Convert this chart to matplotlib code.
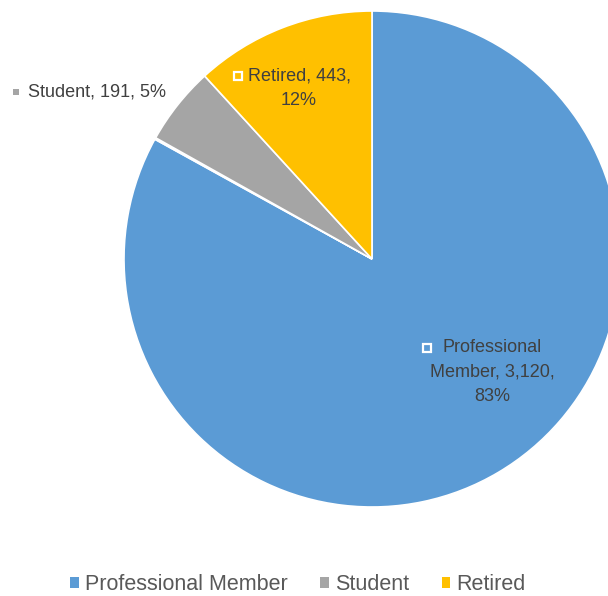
import matplotlib.pyplot as plt
from matplotlib.patches import Rectangle

plt.rcParams['font.family'] = ['Liberation Sans', 'DejaVu Sans']

# membership counts (tiny unlabelled sliver between blue and grey included)
categories = ['Professional Member', 'Other', 'Student', 'Retired']
counts = [3120, 4, 191, 443]
percents = ['83%', '', '5%', '12%']
colors = ['#5B9BD5', '#F4C7A8', '#A5A5A5', '#FFC000']

W, H = 608, 596
fig = plt.figure(figsize=(W / 100, H / 100), dpi=100)
ax = fig.add_axes([0, 0, 1, 1])

wedges, _ = ax.pie(counts, colors=colors, startangle=90, counterclock=False,
                   center=(372, H - 259), radius=248,
                   wedgeprops=dict(edgecolor='white', linewidth=1.2))
ax.set_xlim(0, W)
ax.set_ylim(0, H)
ax.set_aspect('auto')
ax.axis('off')

txt = '#404040'


def key(x, y, face, edge):
    # little legend key drawn in front of a data label
    ax.add_patch(Rectangle((x - 4, H - y - 4), 8, 8, facecolor=face,
                           edgecolor=edge, linewidth=1.6, zorder=5))


# Professional Member label (inside)
key(427, 348, colors[0], 'white')
ax.text(492, H - 372, 'Professional\nMember, {:,},\n{}'.format(counts[0], percents[0]),
        ha='center', va='center', fontsize=13, color=txt, linespacing=1.55)

# Retired label (inside)
key(238, 76, colors[3], 'white')
ax.text(299, H - 88, 'Retired, {:,},\n{}'.format(counts[3], percents[3]),
        ha='center', va='center', fontsize=13, color=txt, linespacing=1.55)

# Student label (outside)
ax.add_patch(Rectangle((13, H - 95), 6, 6, facecolor=colors[2], edgecolor='none'))
ax.text(28, H - 92, '{}, {}, {}'.format(categories[2], counts[2], percents[2]),
        ha='left', va='center', fontsize=13, color=txt)

handles = [wedges[0], wedges[2], wedges[3]]
labels = [categories[0], categories[2], categories[3]]
leg = fig.legend(handles, labels, loc='center', bbox_to_anchor=(298 / W, 1 - 585 / H),
                 ncol=3, frameon=False, fontsize=15.5, handlelength=0.4, handleheight=0.4,
                 handletextpad=0.3, columnspacing=1.5, labelcolor='#595959')
for h in leg.legend_handles:
    h.set_edgecolor('none')

fig.savefig('out.png', dpi=100)
